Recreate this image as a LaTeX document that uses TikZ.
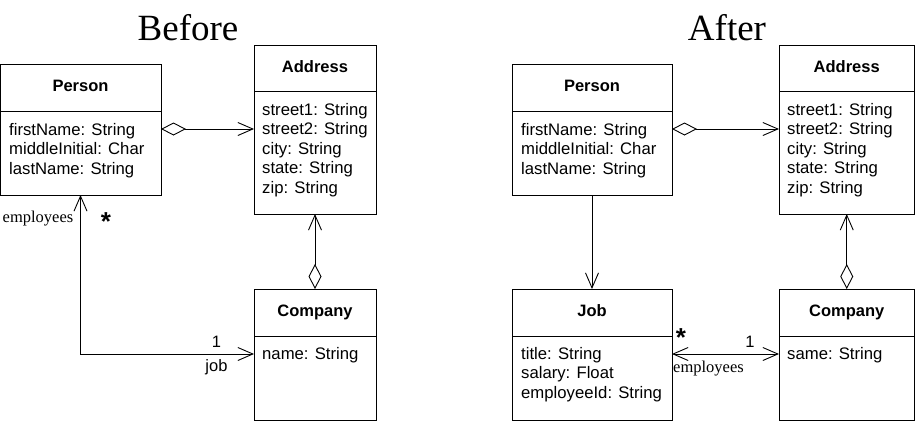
\documentclass[tikz,border=0pt]{standalone}
\usepackage{fontspec}
\setmainfont{Liberation Serif}
\setsansfont{Liberation Sans}
\usepackage{tikz}
\usetikzlibrary{arrows.meta,positioning}

\begin{document}
\begin{tikzpicture}[x=1pt,y=-1pt,
        classhead/.style={draw, line width=0.9pt, outer sep=0pt, inner sep=0pt,
            text height=12pt, text depth=3.5pt,
            font=\sffamily\bfseries\fontsize{16.5}{19}\selectfont},
        classbody/.style={draw, line width=0.9pt, outer sep=0pt, inner sep=0pt},
        attr/.style={anchor=north west, align=left, inner sep=0pt,
            font=\sffamily\fontsize{16.7}{19.5}\selectfont},
        rolelbl/.style={inner sep=0pt, font=\fontsize{16.5}{19}\selectfont},
        multlbl/.style={inner sep=0pt, font=\sffamily\fontsize{16.5}{19}\selectfont},
        starlbl/.style={inner sep=0pt, font=\sffamily\bfseries\fontsize{26}{26}\selectfont},
        title/.style={anchor=base, inner sep=0pt, font=\fontsize{37}{40}\selectfont},
        conn/.style={line width=0.9pt},
        barb/.tip={Straight Barb[length=15pt,width=13pt]},
        dia/.tip={Diamond[open,length=25pt,width=13pt]}]
        \useasboundingbox (0,0) rectangle (916,421);

        % Before
        \node[title] (titleA) at (188,40) {Before};

        \node[classhead, minimum width=161pt, minimum height=47pt] (personA) at (80.5,87.5) {Person};
        \node[classbody, minimum width=161pt, minimum height=84pt, below=0pt of personA] (personAbody) {};
        \node[attr] (personAattr) at ([shift={(9pt,-12pt)}]personAbody.north west) {firstName: String\\middleInitial: Char\\lastName: String};

        \node[classhead, minimum width=122pt, minimum height=46pt] (addressA) at (315,68) {Address};
        \node[classbody, minimum width=122pt, minimum height=123pt, below=0pt of addressA] (addressAbody) {};
        \node[attr] (addressAattr) at ([shift={(8pt,-12pt)}]addressAbody.north west) {street1: String\\street2: String\\city: String\\state: String\\zip: String};

        \node[classhead, minimum width=122pt, minimum height=47pt] (companyA) at (315,312.5) {Company};
        \node[classbody, minimum width=122pt, minimum height=84pt, below=0pt of companyA] (companyAbody) {};
        \node[attr] (companyAattr) at ([shift={(8pt,-11pt)}]companyAbody.north west) {name: String};

        \draw[conn, dia-barb] ([yshift=24pt]personAbody.east) -- ([yshift=24pt]personAbody.east -| addressAbody.west);
        \draw[conn, barb-dia] (addressAbody.south) -- (companyA.north);
        \draw[conn, barb-barb] (personAbody.south) |- ([yshift=24pt]companyAbody.west);

        \node[rolelbl, anchor=base east] (empA) at ([shift={(-7pt,-27pt)}]personAbody.south) {employees};
        \node[starlbl] (manyA) at ([shift={(25.5pt,-27pt)}]personAbody.south) {*};
        \node[multlbl, anchor=base] (oneA) at ([shift={(-37.5pt,31pt)}]companyAbody.west) {1};
        \node[multlbl, anchor=base] (jobA) at ([shift={(-37.5pt,6.5pt)}]companyAbody.west) {job};

        % After
        \node[title] (titleB) at (727,40) {After};

        \node[classhead, minimum width=160pt, minimum height=47pt] (personB) at (592,87.5) {Person};
        \node[classbody, minimum width=160pt, minimum height=84pt, below=0pt of personB] (personBbody) {};
        \node[attr] (personBattr) at ([shift={(9pt,-12pt)}]personBbody.north west) {firstName: String\\middleInitial: Char\\lastName: String};

        \node[classhead, minimum width=135.5pt, minimum height=46pt] (addressB) at (846.75,68) {Address};
        \node[classbody, minimum width=135.5pt, minimum height=123pt, below=0pt of addressB] (addressBbody) {};
        \node[attr] (addressBattr) at ([shift={(8pt,-12pt)}]addressBbody.north west) {street1: String\\street2: String\\city: String\\state: String\\zip: String};

        \node[classhead, minimum width=160pt, minimum height=47pt] (jobB) at (592,312.5) {Job};
        \node[classbody, minimum width=160pt, minimum height=84pt, below=0pt of jobB] (jobBbody) {};
        \node[attr] (jobBattr) at ([shift={(9pt,-11pt)}]jobBbody.north west) {title: String\\salary: Float\\employeeId: String};

        \node[classhead, minimum width=135.5pt, minimum height=47pt] (companyB) at (846.75,312.5) {Company};
        \node[classbody, minimum width=135.5pt, minimum height=84pt, below=0pt of companyB] (companyBbody) {};
        \node[attr] (companyBattr) at ([shift={(8pt,-11pt)}]companyBbody.north west) {same: String};

        \draw[conn, dia-barb] ([yshift=24pt]personBbody.east) -- ([yshift=24pt]personBbody.east -| addressBbody.west);
        \draw[conn, barb-dia] (addressBbody.south) -- (companyB.north);
        \draw[conn, -barb] (personBbody.south) -- (jobB.north);
        \draw[conn, barb-barb] ([yshift=24pt]jobBbody.east) -- ([yshift=24pt]companyBbody.west);

        \node[starlbl] (manyB) at ([shift={(9pt,40pt)}]jobBbody.east) {*};
        \node[multlbl, anchor=base] (oneB) at ([shift={(-29pt,31pt)}]companyBbody.west) {1};
        \node[rolelbl, anchor=base west] (empB) at ([shift={(1pt,6pt)}]jobBbody.east) {employees};
\end{tikzpicture}
\end{document}
